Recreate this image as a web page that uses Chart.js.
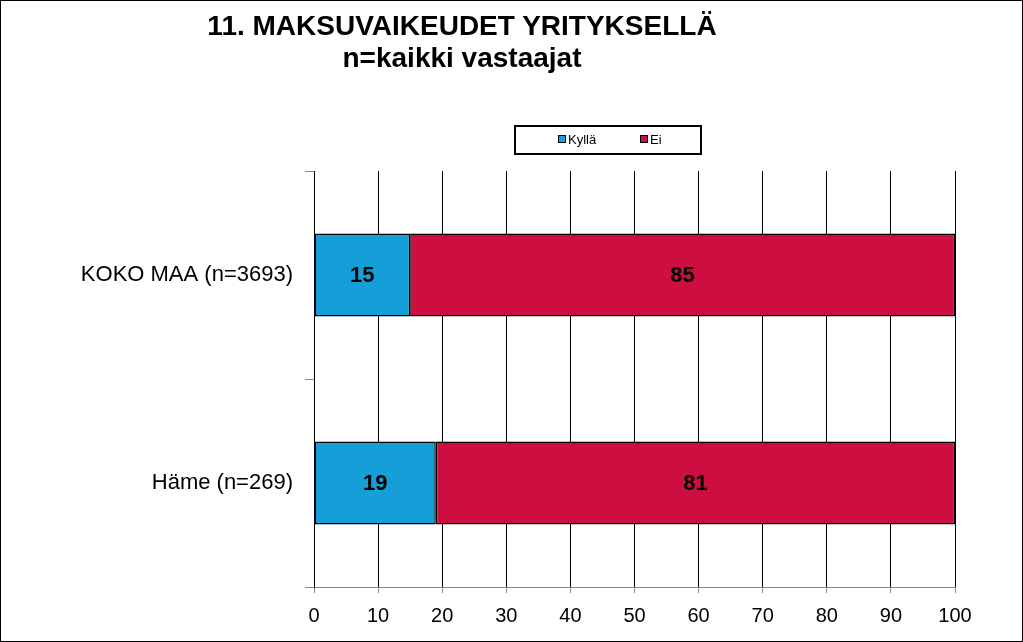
<!DOCTYPE html>
<html>
<head>
<meta charset="utf-8">
<script src="https://cdn.jsdelivr.net/npm/chart.js@4"></script>
<style>
  body { margin: 0; background: #fff; }
  #wrap { position: relative; width: 1023px; height: 642px; font-family: "Liberation Sans", Arial, sans-serif; }
  #frame { position: absolute; left: 0; top: 0; width: 1021px; height: 640px; border: 1px solid #000; pointer-events: none; }
  #title { position: absolute; left: 162px; top: 10px; width: 600px; text-align: center;
           font-weight: bold; font-size: 28px; line-height: 32px; color: #000; }
  #legend { position: absolute; left: 514px; top: 125px; width: 184px; height: 26px; border: 2px solid #000;
            font-size: 13px; color: #000; }
  #legend span.item { position: absolute; top: 5px; }
  #legend i { display: inline-block; width: 6px; height: 6px; border: 1px solid #000; margin-right: 2px; vertical-align: 1px; }
</style>
</head>
<body>
<div id="wrap">
  <canvas id="chart" width="1023" height="642"></canvas>
  <div id="title">11. MAKSUVAIKEUDET YRITYKSELLÄ<br>n=kaikki vastaajat</div>
  <div id="legend"></div>
  <div id="frame"></div>
</div>
<script>
var categories = ["KOKO MAA (n=3693)", "Häme (n=269)"];
var seriesNames = ["Kyllä", "Ei"];
var kyllaValues = [15, 19];
var eiValues = [85, 81];
var barColors = ["#149fd9", "#cc0f40"];
var xTicks = [0, 10, 20, 30, 40, 50, 60, 70, 80, 90, 100];

// value labels in the middle of each bar
var valueLabels = {
    id: "valueLabels",
    afterDatasetsDraw: function(chart) {
        var ctx = chart.ctx;
        ctx.save();
        ctx.font = "bold 22px 'Liberation Sans', Arial, sans-serif";
        ctx.fillStyle = "#000";
        ctx.textAlign = "center";
        ctx.textBaseline = "middle";
        chart.data.datasets.forEach(function(ds, i) {
            chart.getDatasetMeta(i).data.forEach(function(bar, j) {
                var p = bar.getCenterPoint();
                ctx.fillText(ds.data[j], p.x, p.y + 1);
            });
        });
        ctx.restore();
    }
};

var chart = new Chart("chart", {
    type: "bar",
    data: {
        labels: categories,
        datasets: [
            { label: seriesNames[0], data: kyllaValues, backgroundColor: barColors[0],
              borderColor: "#000", borderWidth: 1.5, borderSkipped: false },
            { label: seriesNames[1], data: eiValues, backgroundColor: barColors[1],
              borderColor: "#000", borderWidth: 1.5, borderSkipped: false }
        ]
    },
    options: {
        indexAxis: "y",
        responsive: false,
        animation: false,
        layout: { padding: { left: 0, top: 171, right: 68, bottom: 0 } },
        datasets: {
            bar: { barPercentage: 0.4, categoryPercentage: 1 }
        },
        plugins: {
            legend: { display: false },
            title: { display: false },
            tooltip: { enabled: false }
        },
        scales: {
            x: {
                stacked: true,
                min: 0,
                max: 100,
                afterBuildTicks: function(scale) {
                    scale.ticks = xTicks.map(function(v) { return { value: v }; });
                },
                afterFit: function(scale) { scale.height = 55; },
                grid: { color: "#000", lineWidth: 1, tickColor: "#888", tickLength: 6 },
                border: { color: "#888", width: 1 },
                ticks: { color: "#000", padding: 11, maxRotation: 0,
                         font: { family: "'Liberation Sans', Arial, sans-serif", size: 20 } }
            },
            y: {
                stacked: true,
                afterFit: function(scale) { scale.width = 314; },
                grid: { drawOnChartArea: false, offset: true, color: "#888", tickColor: "#888", tickLength: 9 },
                border: { color: "#000", width: 1 },
                ticks: { color: "#000", padding: 12,
                         font: { family: "'Liberation Sans', Arial, sans-serif", size: 22 } }
            }
        }
    },
    plugins: [valueLabels]
});

// legend box built from the datasets
var legend = document.getElementById("legend");
var legendX = [42, 124];
chart.data.datasets.forEach(function(ds, i) {
    var s = document.createElement("span");
    s.className = "item";
    s.style.left = legendX[i] + "px";
    s.innerHTML = '<i style="background:' + ds.backgroundColor + '"></i>' + ds.label;
    legend.appendChild(s);
});
</script>
</body>
</html>
